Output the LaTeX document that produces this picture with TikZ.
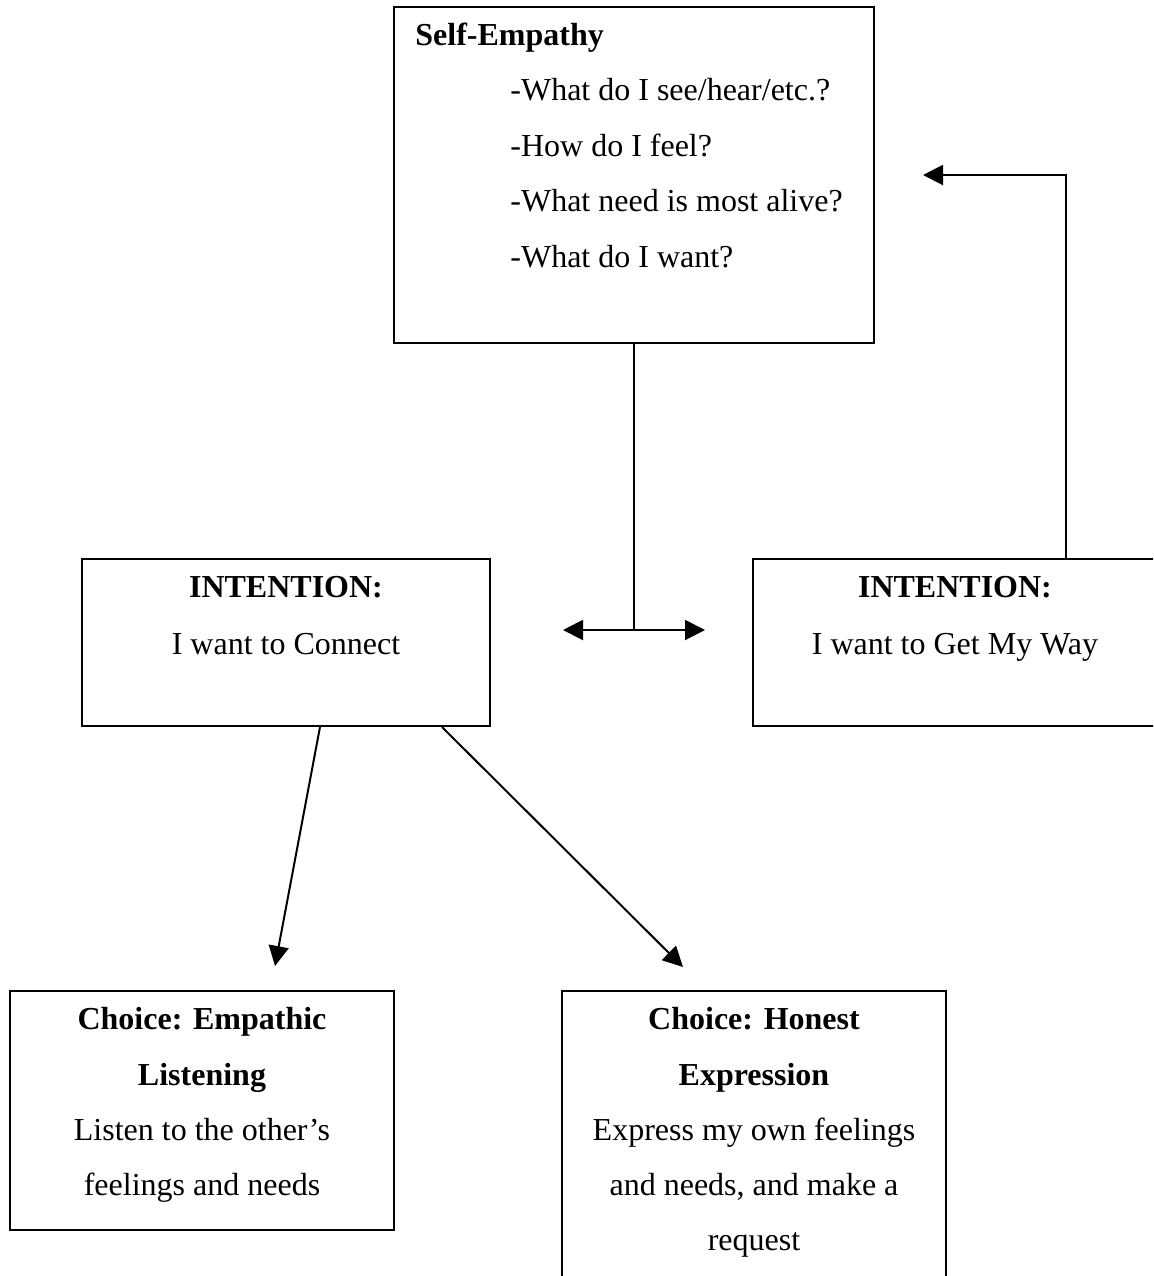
\documentclass[tikz,border=0pt]{standalone}
\usepackage{fontspec}
\setmainfont{Liberation Serif}
\usetikzlibrary{arrows.meta,calc}
\begin{document}
\begin{tikzpicture}[x=0.5pt,y=-0.5pt,
  box/.style={draw,line width=1pt,inner sep=0pt,rectangle},
  txt/.style={anchor=base,inner sep=0pt,font=\fontsize{16}{19}\selectfont},
  btxt/.style={txt,font=\fontsize{16}{19}\selectfont\bfseries},
  conn/.style={line width=1pt},
  tip/.style={-{Triangle[length=10pt,width=10pt]}}]
\useasboundingbox (0,0) rectangle (1153,1276);
\clip (0,0) rectangle (1153,1276);
% boxes
\node[box,minimum width=240pt,minimum height=168pt] (self) at (634,175) {};
\node[box,minimum width=204pt,minimum height=83.5pt] (lbox) at (286,642.5) {};
\node[box,minimum width=202pt,minimum height=83.5pt] (rbox) at (955,642.5) {};
\node[box,minimum width=192pt,minimum height=119.5pt] (cl) at (202,1110.5) {};
\node[box,minimum width=192pt,minimum height=154.5pt] (cr) at (754,1145.5) {};
% texts
\node[btxt,anchor=base west] (t0) at (415,45) {Self-Empathy};
\node[txt,anchor=base west] (t1) at (510,100) {-What do I see/hear/etc.?};
\node[txt,anchor=base west] (t2) at (510,156) {-How do I feel?};
\node[txt,anchor=base west] (t3) at (510,211) {-What need is most alive?};
\node[txt,anchor=base west] (t4) at (510,267) {-What do I want?};
\node[btxt] (l1) at (286,597) {INTENTION:};
\node[txt] (l2) at (286,654) {I want to Connect};
\node[btxt] (r1) at (955,597) {INTENTION:};
\node[txt] (r2) at (955,654) {I want to Get My Way};
\node[btxt] (a1) at (202,1029) {Choice: Empathic};
\node[btxt] (a2) at (202,1085) {Listening};
\node[txt] (a3) at (202,1140) {Listen to the other’s};
\node[txt] (a4) at (202,1195) {feelings and needs};
\node[btxt] (b1) at (754,1029) {Choice: Honest};
\node[btxt] (b2) at (754,1085) {Expression};
\node[txt] (b3) at (754,1140) {Express my own feelings};
\node[txt] (b4) at (754,1195) {and needs, and make a};
\node[txt] (b5) at (754,1250) {request};
% connectors
\coordinate (j) at (634,630);
\coordinate (jl) at (563,630);
\coordinate (jr) at (705,630);
\draw[conn] (self.south) -- (j);
\draw[conn,tip] (j) -- (jl);
\draw[conn,tip] (j) -- (jr);
\coordinate (fb) at (1066,175);
\coordinate (fbend) at (923,175);
\draw[conn,tip] (rbox.north -| fb) -- (fb) -- (fbend);
\coordinate (tl) at (275,966);
\coordinate (tr) at (683,967);
\draw[conn,tip] ($(lbox.south west)+(239,0)$) -- (tl);
\draw[conn,tip] ($(lbox.south west)+(361,0)$) -- (tr);
\end{tikzpicture}
\end{document}
